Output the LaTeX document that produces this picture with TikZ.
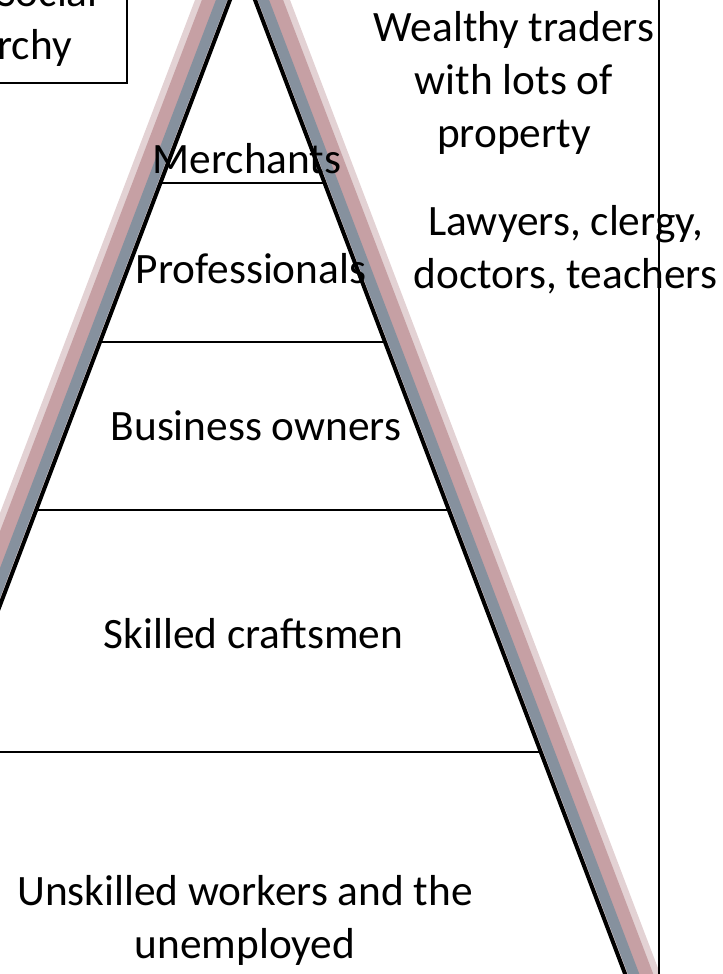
\documentclass[tikz,border=0pt]{standalone}
\usepackage{fontspec}
\setmainfont{Carlito}
\usetikzlibrary{calc}
\definecolor{blush}{HTML}{E3D2D4}
\definecolor{dustyrose}{HTML}{C6A0A4}
\definecolor{slategrey}{HTML}{86919E}
\tikzset{
  tierlabel/.style={
    font=\fontsize{32.5}{39.75}\selectfont, inner sep=0pt, align=center
  },
  tierline/.style={line width=1.5pt, color=black},
  sideline/.style={line width=3pt, color=black, line join=miter},
  glowline/.style={line width=#1, line join=miter},
  glowline/.default=18pt,
}

\begin{document}
\begin{tikzpicture}[x=0.75pt, y=-0.75pt]
  \useasboundingbox (0,0) rectangle (722,974);
  \clip (0,0) rectangle (722,974);

  % Pyramid corners
  \coordinate (apex) at (242.5,-33);
  \coordinate (baseL) at (-153.8,1010);
  \coordinate (baseR) at (638.8,1010);

  % Glow behind the sides
  \draw[glowline=24pt, blush] ($(baseL)+(-18,0)$) -- ($(apex)+(0,-47)$) -- ($(baseR)+(18,0)$);
  \draw[glowline=17pt, dustyrose] ($(baseL)+(-16,0)$) -- ($(apex)+(0,-42)$) -- ($(baseR)+(16,0)$);
  \draw[glowline=8pt, slategrey] ($(baseL)+(-8.5,0)$) -- ($(apex)+(0,-22)$) -- ($(baseR)+(8.5,0)$);

  % Sides
  \draw[sideline] (baseL) -- (apex) -- (baseR);

  % Tiers
  \draw[tierline] ($(apex)!0.2071!(baseL)$) -- ($(apex)!0.2071!(baseR)$);
  \draw[tierline] ($(apex)!0.3595!(baseL)$) -- ($(apex)!0.3595!(baseR)$);
  \draw[tierline] ($(apex)!0.5206!(baseL)$) -- ($(apex)!0.5206!(baseR)$);
  \draw[tierline] ($(apex)!0.7526!(baseL)$) -- ($(apex)!0.7526!(baseR)$);

  % Tier labels
  \node[tierlabel, anchor=base] (merchants) at (247,173) {Merchants};
  \node[tierlabel, anchor=base] (professionals) at (251,283) {Professionals};
  \node[tierlabel, anchor=base] (business) at (256,440) {Business owners};
  \node[tierlabel, anchor=base] (skilled) at (253.5,648) {Skilled craftsmen};
  \node[tierlabel, anchor=base] (unskilled) at (245,958) {Unskilled workers and the\\unemployed};

  % Notes on the right
  \node[tierlabel, anchor=base] (wealthy) at (514,147) {Wealthy traders\\with lots of\\property};
  \node[tierlabel, anchor=base] (lawyers) at (565.5,288) {Lawyers, clergy,\\doctors, teachers};

  % Divider
  \coordinate (divtop) at (659,-5);
  \coordinate (divbot) at (659,980);
  \draw[tierline] (divtop) -- (divbot);

  % Title box
  \draw[tierline] (-10,-10) rectangle (127,83);
  \node[tierlabel, anchor=base east] (social) at (98,7) {Social};
  \node[tierlabel, anchor=base east] (hierarchy) at (72,60) {Hierarchy};
\end{tikzpicture}
\end{document}
